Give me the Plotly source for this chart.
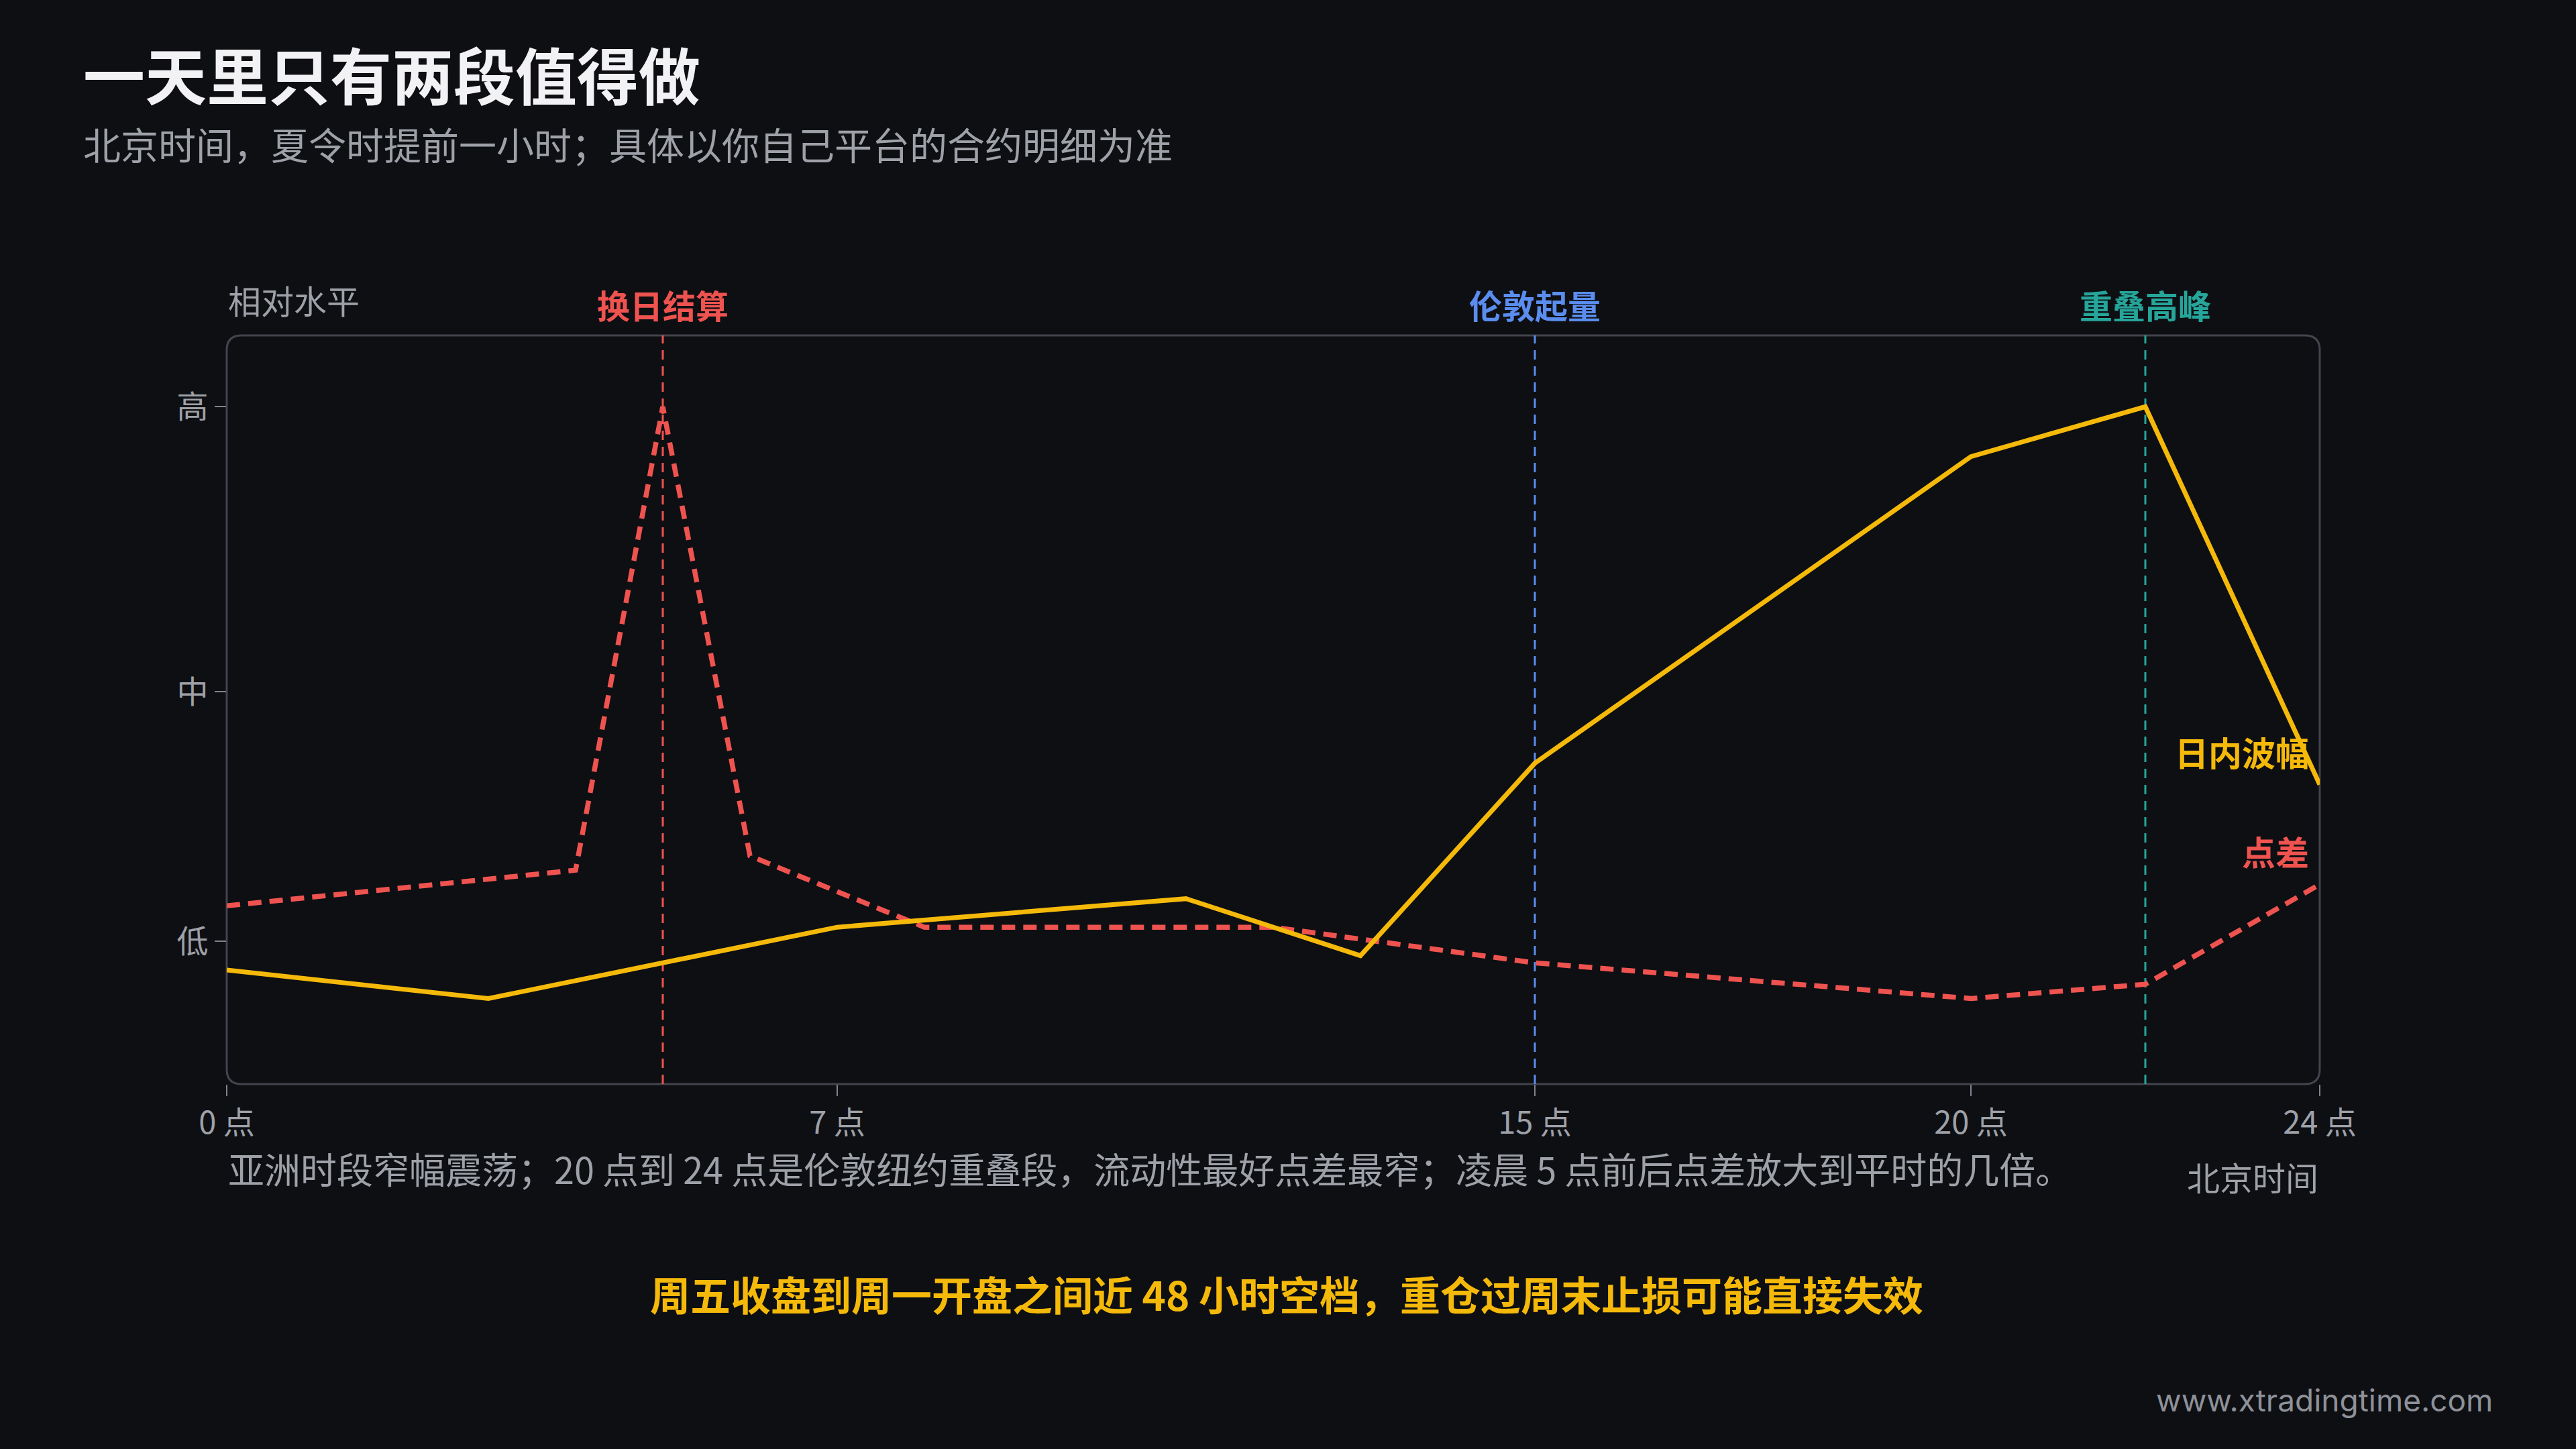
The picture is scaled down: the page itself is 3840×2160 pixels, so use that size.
import plotly.graph_objects as go

# ---- data ----
hours = [0, 3, 7, 11, 13, 15, 20, 22, 24]
volatility = [0.11, 0.07, 0.17, 0.21, 0.13, 0.40, 0.83, 0.90, 0.37]

spread_hours = [0, 4, 5, 6, 8, 12, 15, 20, 22, 24]
spread = [0.20, 0.25, 0.90, 0.27, 0.17, 0.17, 0.12, 0.07, 0.09, 0.23]

x_tickvals = [0, 7, 15, 20, 24]
x_ticktext = ["0 点", "7 点", "15 点", "20 点", "24 点"]
y_tickvals = [0.15, 0.5, 0.9]
y_ticktext = ["低", "中", "高"]

markers = [
    {"x": 5, "label": "换日结算", "color": "#ef5350"},
    {"x": 15, "label": "伦敦起量", "color": "#5b8def"},
    {"x": 22, "label": "重叠高峰", "color": "#26a69a"},
]

BG = "#0e0f13"
YELLOW = "#f5b90a"
RED = "#ef5350"
GRAY = "#9ea1a8"
FONT = "Noto Sans CJK SC"

W, H = 3840, 2160
L, R, T, B = 338, 382, 500, 544
PW, PH = W - L - R, H - T - B

fig = go.Figure()

fig.add_trace(go.Scatter(
    x=spread_hours, y=spread, mode="lines",
    line=dict(color=RED, width=7.5, dash="20px,12px"),
    hoverinfo="skip", showlegend=False,
))
fig.add_trace(go.Scatter(
    x=hours, y=volatility, mode="lines",
    line=dict(color=YELLOW, width=7),
    hoverinfo="skip", showlegend=False,
))

# rounded box
r = 22
rx, ry = r / PW, r / PH
path = (f"M {rx},0 L {1-rx},0 Q 1,0 1,{ry} L 1,{1-ry} Q 1,1 {1-rx},1 "
        f"L {rx},1 Q 0,1 0,{1-ry} L 0,{ry} Q 0,0 {rx},0 Z")
fig.add_shape(type="path", path=path, xref="paper", yref="paper",
              line=dict(color="#42454d", width=3), layer="below")

annotations = []
for m in markers:
    fig.add_shape(type="line", x0=m["x"], x1=m["x"], y0=0, y1=1,
                  xref="x", yref="paper",
                  line=dict(color=m["color"], width=3, dash="14px,10px"),
                  layer="below")
    annotations.append(dict(x=m["x"], y=1, xref="x", yref="paper",
                            text=m["label"], showarrow=False,
                            xanchor="center", yanchor="middle", yshift=47,
                            font=dict(family=FONT, size=49, color=m["color"], weight=700)))

annotations += [
    dict(x=0, y=1, xref="paper", yref="paper", text="一天里只有两段值得做",
         showarrow=False, xanchor="left", yanchor="middle", xshift=-216, yshift=392,
         font=dict(family=FONT, size=92, color="#f2f2f5", weight=700)),
    dict(x=0, y=1, xref="paper", yref="paper",
         text="北京时间，夏令时提前一小时；具体以你自己平台的合约明细为准",
         showarrow=False, xanchor="left", yanchor="middle", xshift=-216, yshift=287,
         font=dict(family=FONT, size=56, color=GRAY)),
    dict(x=0, y=1, xref="paper", yref="paper", text="相对水平",
         showarrow=False, xanchor="left", yanchor="middle", yshift=54,
         font=dict(family=FONT, size=49, color=GRAY)),
    dict(x=1, y=0.417, xref="paper", yref="y", text="日内波幅",
         showarrow=False, xanchor="right", yanchor="middle", xshift=-14,
         font=dict(family=FONT, size=50, color=YELLOW, weight=700)),
    dict(x=1, y=0.277, xref="paper", yref="y", text="点差",
         showarrow=False, xanchor="right", yanchor="middle", xshift=-14,
         font=dict(family=FONT, size=50, color=RED, weight=700)),
    dict(x=0, y=0, xref="paper", yref="paper",
         text="亚洲时段窄幅震荡；20 点到 24 点是伦敦纽约重叠段，流动性最好点差最窄；凌晨 5 点前后点差放大到平时的几倍。",
         showarrow=False, xanchor="left", yanchor="middle", yshift=-125,
         font=dict(family=FONT, size=54, color=GRAY)),
    dict(x=1, y=0, xref="paper", yref="paper", text="北京时间",
         showarrow=False, xanchor="right", yanchor="middle", yshift=-137,
         font=dict(family=FONT, size=49, color=GRAY)),
    dict(x=0, y=0, xref="paper", yref="paper",
         text="周五收盘到周一开盘之间近 48 小时空档，重仓过周末止损可能直接失效",
         showarrow=False, xanchor="center", yanchor="middle", xshift=1580, yshift=-311,
         font=dict(family=FONT, size=60, color=YELLOW, weight=700)),
    dict(x=1, y=0, xref="paper", yref="paper", text="www.xtradingtime.com",
         showarrow=False, xanchor="right", yanchor="middle", xshift=260, yshift=-471,
         font=dict(family="Inter", size=46, color="#8e9199")),
]

fig.update_layout(
    width=W, height=H,
    margin=dict(l=L, r=R, t=T, b=B),
    paper_bgcolor=BG, plot_bgcolor=BG,
    annotations=annotations,
    font=dict(family=FONT, color=GRAY),
    xaxis=dict(range=[0, 24], tickvals=x_tickvals, ticktext=x_ticktext,
               showgrid=False, zeroline=False, showline=False,
               ticks="outside", ticklen=17, tickwidth=2, tickcolor="#80838b",
               tickfont=dict(family=FONT, size=47, color=GRAY)),
    yaxis=dict(range=[-0.05, 1.0], tickvals=y_tickvals, ticktext=y_ticktext,
               showgrid=False, zeroline=False, showline=False,
               ticks="outside", ticklen=17, tickwidth=2, tickcolor="#80838b",
               tickfont=dict(family=FONT, size=47, color=GRAY)),
)

fig.write_html(
    "out.html",
    config={"displayModeBar": False},
    post_script="document.body.style.margin='0';document.body.style.background='%s';" % BG,
)
